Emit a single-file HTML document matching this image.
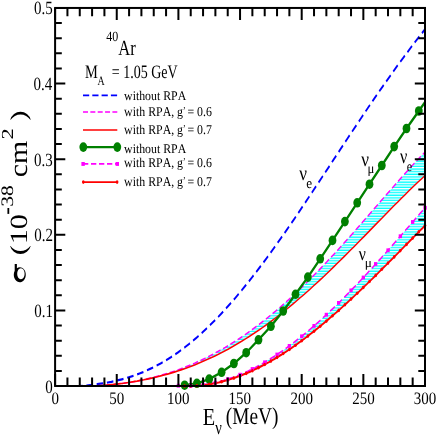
<!DOCTYPE html>
<html><head><meta charset="utf-8"><title>plot</title><style>html,body{margin:0;padding:0;background:#fff}body{width:436px;height:436px;overflow:hidden}svg{display:block;will-change:transform}</style></head><body>
<svg width="436" height="436" viewBox="0 0 436 436">
<defs><pattern id="h" width="8" height="2.620" y="256.150" patternUnits="userSpaceOnUse"><rect width="8" height="2.620" fill="#00ffff"/><rect width="8" height="1.30" fill="#fff"/></pattern>
<clipPath id="c"><rect x="55.1" y="8" width="369.9" height="378"/></clipPath></defs>
<g clip-path="url(#c)">
<path d="M89.6,386.0 L93.0,386.0 L96.4,385.9 L99.8,385.7 L103.2,385.5 L106.6,385.2 L109.9,384.9 L113.3,384.6 L116.7,384.2 L120.1,383.8 L123.5,383.3 L126.9,382.8 L130.3,382.3 L133.7,381.7 L137.1,381.1 L140.4,380.4 L143.8,379.7 L147.2,378.9 L150.6,378.1 L154.0,377.3 L157.4,376.4 L160.8,375.4 L164.2,374.4 L167.5,373.4 L170.9,372.3 L174.3,371.2 L177.7,370.0 L181.1,368.7 L184.5,367.4 L187.9,366.0 L191.3,364.6 L194.6,363.2 L198.0,361.6 L201.4,360.1 L204.8,358.4 L208.2,356.8 L211.6,355.0 L215.0,353.2 L218.4,351.3 L221.7,349.4 L225.1,347.5 L228.5,345.4 L231.9,343.3 L235.3,341.2 L238.7,339.0 L242.1,336.7 L245.5,334.4 L248.8,332.0 L252.2,329.5 L255.6,327.0 L259.0,324.5 L262.4,321.8 L265.8,319.2 L269.2,316.4 L272.6,313.6 L275.9,310.8 L279.3,307.9 L282.7,304.9 L286.1,301.9 L289.5,298.8 L292.9,295.7 L296.3,292.5 L299.7,289.3 L303.0,286.0 L306.4,282.7 L309.8,279.4 L313.2,275.9 L316.6,272.5 L320.0,269.0 L323.4,265.4 L326.8,261.9 L330.1,258.2 L333.5,254.6 L336.9,250.9 L340.3,247.2 L343.7,243.4 L347.1,239.6 L350.5,235.8 L353.9,232.0 L357.2,228.2 L360.6,224.3 L364.0,220.4 L367.4,216.5 L370.8,212.6 L374.2,208.7 L377.6,204.8 L381.0,200.9 L384.3,197.0 L387.7,193.1 L391.1,189.2 L394.5,185.4 L397.9,181.5 L401.3,177.7 L404.7,173.9 L408.1,170.2 L411.4,166.5 L414.8,162.8 L418.2,159.2 L421.6,155.6 L425.0,152.1 L425.0,175.6 L421.6,178.8 L418.2,181.9 L414.8,185.2 L411.4,188.4 L408.1,191.7 L404.7,195.1 L401.3,198.4 L397.9,201.8 L394.5,205.2 L391.1,208.7 L387.7,212.1 L384.3,215.6 L381.0,219.1 L377.6,222.5 L374.2,226.0 L370.8,229.5 L367.4,233.0 L364.0,236.5 L360.6,239.9 L357.2,243.4 L353.9,246.8 L350.5,250.2 L347.1,253.6 L343.7,257.0 L340.3,260.4 L336.9,263.7 L333.5,267.0 L330.1,270.3 L326.8,273.6 L323.4,276.8 L320.0,280.0 L316.6,283.1 L313.2,286.2 L309.8,289.3 L306.4,292.3 L303.0,295.3 L299.7,298.2 L296.3,301.2 L292.9,304.0 L289.5,306.8 L286.1,309.6 L282.7,312.3 L279.3,315.0 L275.9,317.6 L272.6,320.2 L269.2,322.7 L265.8,325.2 L262.4,327.6 L259.0,330.0 L255.6,332.3 L252.2,334.5 L248.8,336.7 L245.5,338.9 L242.1,341.0 L238.7,343.0 L235.3,345.0 L231.9,347.0 L228.5,348.9 L225.1,350.7 L221.7,352.5 L218.4,354.2 L215.0,355.9 L211.6,357.5 L208.2,359.1 L204.8,360.6 L201.4,362.1 L198.0,363.5 L194.6,364.9 L191.3,366.2 L187.9,367.5 L184.5,368.7 L181.1,369.9 L177.7,371.0 L174.3,372.1 L170.9,373.1 L167.5,374.1 L164.2,375.0 L160.8,375.9 L157.4,376.8 L154.0,377.6 L150.6,378.4 L147.2,379.1 L143.8,379.8 L140.4,380.4 L137.1,381.1 L133.7,381.6 L130.3,382.2 L126.9,382.7 L123.5,383.2 L120.1,383.6 L116.7,384.0 L113.3,384.4 L109.9,384.7 L106.6,385.1 L103.2,385.4 L99.8,385.6 L96.4,385.9 L93.0,386.0 L89.6,386.0 Z" fill="url(#h)"/>
<path d="M184.6,386.0 L187.0,386.0 L189.4,386.0 L191.9,385.9 L194.3,385.8 L196.7,385.6 L199.1,385.4 L201.6,385.1 L204.0,384.8 L206.4,384.4 L208.9,384.0 L211.3,383.5 L213.7,383.0 L216.1,382.5 L218.6,381.9 L221.0,381.2 L223.4,380.6 L225.9,379.8 L228.3,379.1 L230.7,378.2 L233.1,377.4 L235.6,376.5 L238.0,375.5 L240.4,374.5 L242.9,373.5 L245.3,372.4 L247.7,371.3 L250.1,370.1 L252.6,368.9 L255.0,367.7 L257.4,366.4 L259.9,365.0 L262.3,363.7 L264.7,362.3 L267.1,360.8 L269.6,359.3 L272.0,357.8 L274.4,356.3 L276.9,354.7 L279.3,353.0 L281.7,351.4 L284.1,349.7 L286.6,347.9 L289.0,346.1 L291.4,344.3 L293.9,342.5 L296.3,340.6 L298.7,338.7 L301.1,336.7 L303.6,334.8 L306.0,332.8 L308.4,330.7 L310.9,328.6 L313.3,326.5 L315.7,324.4 L318.1,322.3 L320.6,320.1 L323.0,317.8 L325.4,315.6 L327.9,313.3 L330.3,311.0 L332.7,308.7 L335.1,306.4 L337.6,304.0 L340.0,301.6 L342.4,299.2 L344.9,296.7 L347.3,294.3 L349.7,291.8 L352.1,289.3 L354.6,286.8 L357.0,284.2 L359.4,281.6 L361.9,279.1 L364.3,276.5 L366.7,273.8 L369.1,271.2 L371.6,268.6 L374.0,265.9 L376.4,263.2 L378.9,260.5 L381.3,257.8 L383.7,255.1 L386.1,252.4 L388.6,249.6 L391.0,246.9 L393.4,244.1 L395.9,241.3 L398.3,238.6 L400.7,235.8 L403.1,233.0 L405.6,230.2 L408.0,227.4 L410.4,224.6 L412.9,221.8 L415.3,219.0 L417.7,216.2 L420.1,213.4 L422.6,210.6 L425.0,207.8 L425.0,225.6 L422.6,228.1 L420.1,230.5 L417.7,233.0 L415.3,235.5 L412.9,237.9 L410.4,240.4 L408.0,242.9 L405.6,245.3 L403.1,247.8 L400.7,250.3 L398.3,252.7 L395.9,255.2 L393.4,257.7 L391.0,260.1 L388.6,262.5 L386.1,265.0 L383.7,267.4 L381.3,269.8 L378.9,272.3 L376.4,274.7 L374.0,277.1 L371.6,279.5 L369.1,281.8 L366.7,284.2 L364.3,286.5 L361.9,288.9 L359.4,291.2 L357.0,293.5 L354.6,295.8 L352.1,298.1 L349.7,300.3 L347.3,302.6 L344.9,304.8 L342.4,307.0 L340.0,309.2 L337.6,311.4 L335.1,313.5 L332.7,315.6 L330.3,317.7 L327.9,319.8 L325.4,321.9 L323.0,323.9 L320.6,325.9 L318.1,327.9 L315.7,329.9 L313.3,331.8 L310.9,333.7 L308.4,335.6 L306.0,337.5 L303.6,339.3 L301.1,341.1 L298.7,342.9 L296.3,344.7 L293.9,346.4 L291.4,348.1 L289.0,349.7 L286.6,351.3 L284.1,352.9 L281.7,354.5 L279.3,356.0 L276.9,357.5 L274.4,359.0 L272.0,360.4 L269.6,361.8 L267.1,363.2 L264.7,364.5 L262.3,365.8 L259.9,367.0 L257.4,368.3 L255.0,369.4 L252.6,370.6 L250.1,371.7 L247.7,372.8 L245.3,373.8 L242.9,374.8 L240.4,375.7 L238.0,376.6 L235.6,377.5 L233.1,378.3 L230.7,379.1 L228.3,379.9 L225.9,380.6 L223.4,381.3 L221.0,381.9 L218.6,382.5 L216.1,383.0 L213.7,383.5 L211.3,384.0 L208.9,384.4 L206.4,384.7 L204.0,385.1 L201.6,385.4 L199.1,385.6 L196.7,385.8 L194.3,385.9 L191.9,386.0 L189.4,386.0 L187.0,386.0 L184.6,386.0 Z" fill="url(#h)"/>
<g transform="scale(0.770,1)" fill="none">
<path d="M98.8,386.0 L103.4,386.0 L107.9,385.9 L112.5,385.5 L117.1,385.1 L121.7,384.7 L126.2,384.2 L130.8,383.7 L135.4,383.1 L140.0,382.5 L144.6,381.8 L149.1,381.0 L153.7,380.2 L158.3,379.3 L162.9,378.3 L167.4,377.2 L172.0,376.1 L176.6,374.8 L181.2,373.5 L185.8,372.1 L190.3,370.5 L194.9,368.9 L199.5,367.2 L204.1,365.3 L208.6,363.4 L213.2,361.4 L217.8,359.2 L222.4,357.0 L226.9,354.6 L231.5,352.2 L236.1,349.6 L240.7,346.9 L245.3,344.1 L249.8,341.2 L254.4,338.3 L259.0,335.2 L263.6,331.9 L268.1,328.6 L272.7,325.2 L277.3,321.7 L281.9,318.1 L286.5,314.4 L291.0,310.6 L295.6,306.7 L300.2,302.7 L304.8,298.7 L309.3,294.5 L313.9,290.3 L318.5,285.9 L323.1,281.5 L327.7,277.0 L332.2,272.5 L336.8,267.9 L341.4,263.2 L346.0,258.4 L350.5,253.6 L355.1,248.7 L359.7,243.8 L364.3,238.8 L368.9,233.8 L373.4,228.7 L378.0,223.6 L382.6,218.4 L387.2,213.2 L391.7,208.0 L396.3,202.7 L400.9,197.4 L405.5,192.1 L410.0,186.8 L414.6,181.5 L419.2,176.1 L423.8,170.7 L428.4,165.4 L432.9,160.0 L437.5,154.7 L442.1,149.3 L446.7,143.9 L451.2,138.6 L455.8,133.3 L460.4,128.0 L465.0,122.7 L469.6,117.4 L474.1,112.2 L478.7,106.9 L483.3,101.8 L487.9,96.6 L492.4,91.5 L497.0,86.4 L501.6,81.4 L506.2,76.4 L510.8,71.5 L515.3,66.6 L519.9,61.7 L524.5,56.9 L529.1,52.2 L533.6,47.5 L538.2,42.9 L542.8,38.3 L547.4,33.8 L551.9,29.3" stroke="#0000ff" stroke-width="2.2" stroke-dasharray="8.5 4.9"/>
<path d="M116.4,386.0 L120.8,386.0 L125.2,385.9 L129.6,385.7 L134.0,385.5 L138.4,385.2 L142.8,384.9 L147.2,384.6 L151.6,384.2 L156.0,383.8 L160.4,383.3 L164.8,382.8 L169.2,382.3 L173.6,381.7 L178.0,381.1 L182.4,380.4 L186.8,379.7 L191.2,378.9 L195.6,378.1 L200.0,377.3 L204.4,376.4 L208.8,375.4 L213.2,374.4 L217.6,373.4 L222.0,372.3 L226.4,371.2 L230.8,370.0 L235.2,368.7 L239.6,367.4 L244.0,366.0 L248.4,364.6 L252.8,363.2 L257.2,361.6 L261.6,360.1 L266.0,358.4 L270.4,356.8 L274.8,355.0 L279.2,353.2 L283.6,351.3 L288.0,349.4 L292.4,347.5 L296.8,345.4 L301.2,343.3 L305.6,341.2 L310.0,339.0 L314.4,336.7 L318.8,334.4 L323.2,332.0 L327.6,329.5 L332.0,327.0 L336.4,324.5 L340.8,321.8 L345.2,319.2 L349.6,316.4 L354.0,313.6 L358.4,310.8 L362.8,307.9 L367.2,304.9 L371.6,301.9 L376.0,298.8 L380.4,295.7 L384.8,292.5 L389.2,289.3 L393.6,286.0 L398.0,282.7 L402.4,279.4 L406.8,275.9 L411.2,272.5 L415.6,269.0 L420.0,265.4 L424.4,261.9 L428.8,258.2 L433.2,254.6 L437.6,250.9 L442.0,247.2 L446.4,243.4 L450.8,239.6 L455.2,235.8 L459.6,232.0 L464.0,228.2 L468.4,224.3 L472.8,220.4 L477.2,216.5 L481.6,212.6 L486.0,208.7 L490.4,204.8 L494.8,200.9 L499.2,197.0 L503.6,193.1 L508.0,189.2 L512.4,185.4 L516.8,181.5 L521.2,177.7 L525.6,173.9 L530.0,170.2 L534.3,166.5 L538.7,162.8 L543.1,159.2 L547.5,155.6 L551.9,152.1" stroke="#ff00ff" stroke-width="1.6" stroke-dasharray="7 3.5"/>
<path d="M116.4,386.0 L120.8,386.0 L125.2,385.9 L129.6,385.6 L134.0,385.4 L138.4,385.1 L142.8,384.7 L147.2,384.4 L151.6,384.0 L156.0,383.6 L160.4,383.2 L164.8,382.7 L169.2,382.2 L173.6,381.6 L178.0,381.1 L182.4,380.4 L186.8,379.8 L191.2,379.1 L195.6,378.4 L200.0,377.6 L204.4,376.8 L208.8,375.9 L213.2,375.0 L217.6,374.1 L222.0,373.1 L226.4,372.1 L230.8,371.0 L235.2,369.9 L239.6,368.7 L244.0,367.5 L248.4,366.2 L252.8,364.9 L257.2,363.5 L261.6,362.1 L266.0,360.6 L270.4,359.1 L274.8,357.5 L279.2,355.9 L283.6,354.2 L288.0,352.5 L292.4,350.7 L296.8,348.9 L301.2,347.0 L305.6,345.0 L310.0,343.0 L314.4,341.0 L318.8,338.9 L323.2,336.7 L327.6,334.5 L332.0,332.3 L336.4,330.0 L340.8,327.6 L345.2,325.2 L349.6,322.7 L354.0,320.2 L358.4,317.6 L362.8,315.0 L367.2,312.3 L371.6,309.6 L376.0,306.8 L380.4,304.0 L384.8,301.2 L389.2,298.2 L393.6,295.3 L398.0,292.3 L402.4,289.3 L406.8,286.2 L411.2,283.1 L415.6,280.0 L420.0,276.8 L424.4,273.6 L428.8,270.3 L433.2,267.0 L437.6,263.7 L442.0,260.4 L446.4,257.0 L450.8,253.6 L455.2,250.2 L459.6,246.8 L464.0,243.4 L468.4,239.9 L472.8,236.5 L477.2,233.0 L481.6,229.5 L486.0,226.0 L490.4,222.5 L494.8,219.1 L499.2,215.6 L503.6,212.1 L508.0,208.7 L512.4,205.2 L516.8,201.8 L521.2,198.4 L525.6,195.1 L530.0,191.7 L534.3,188.4 L538.7,185.2 L543.1,181.9 L547.5,178.8 L551.9,175.6" stroke="#ff0000" stroke-width="1.6"/>
<path d="M239.7,386.0 L242.8,386.0 L246.0,386.0 L249.2,385.9 L252.3,385.8 L255.5,385.6 L258.6,385.4 L261.8,385.1 L264.9,384.8 L268.1,384.4 L271.2,384.0 L274.4,383.5 L277.5,383.0 L280.7,382.5 L283.9,381.9 L287.0,381.2 L290.2,380.6 L293.3,379.8 L296.5,379.1 L299.6,378.2 L302.8,377.4 L305.9,376.5 L309.1,375.5 L312.2,374.5 L315.4,373.5 L318.5,372.4 L321.7,371.3 L324.9,370.1 L328.0,368.9 L331.2,367.7 L334.3,366.4 L337.5,365.0 L340.6,363.7 L343.8,362.3 L346.9,360.8 L350.1,359.3 L353.2,357.8 L356.4,356.3 L359.5,354.7 L362.7,353.0 L365.9,351.4 L369.0,349.7 L372.2,347.9 L375.3,346.1 L378.5,344.3 L381.6,342.5 L384.8,340.6 L387.9,338.7 L391.1,336.7 L394.2,334.8 L397.4,332.8 L400.6,330.7 L403.7,328.6 L406.9,326.5 L410.0,324.4 L413.2,322.3 L416.3,320.1 L419.5,317.8 L422.6,315.6 L425.8,313.3 L428.9,311.0 L432.1,308.7 L435.2,306.4 L438.4,304.0 L441.6,301.6 L444.7,299.2 L447.9,296.7 L451.0,294.3 L454.2,291.8 L457.3,289.3 L460.5,286.8 L463.6,284.2 L466.8,281.6 L469.9,279.1 L473.1,276.5 L476.3,273.8 L479.4,271.2 L482.6,268.6 L485.7,265.9 L488.9,263.2 L492.0,260.5 L495.2,257.8 L498.3,255.1 L501.5,252.4 L504.6,249.6 L507.8,246.9 L510.9,244.1 L514.1,241.3 L517.3,238.6 L520.4,235.8 L523.6,233.0 L526.7,230.2 L529.9,227.4 L533.0,224.6 L536.2,221.8 L539.3,219.0 L542.5,216.2 L545.6,213.4 L548.8,210.6 L551.9,207.8" stroke="#ff00ff" stroke-width="1.75" stroke-dasharray="7.6 3.9"/>
<path d="M239.7,386.0 L242.8,386.0 L246.0,386.0 L249.2,386.0 L252.3,385.9 L255.5,385.8 L258.6,385.6 L261.8,385.4 L264.9,385.1 L268.1,384.7 L271.2,384.4 L274.4,384.0 L277.5,383.5 L280.7,383.0 L283.9,382.5 L287.0,381.9 L290.2,381.3 L293.3,380.6 L296.5,379.9 L299.6,379.1 L302.8,378.3 L305.9,377.5 L309.1,376.6 L312.2,375.7 L315.4,374.8 L318.5,373.8 L321.7,372.8 L324.9,371.7 L328.0,370.6 L331.2,369.4 L334.3,368.3 L337.5,367.0 L340.6,365.8 L343.8,364.5 L346.9,363.2 L350.1,361.8 L353.2,360.4 L356.4,359.0 L359.5,357.5 L362.7,356.0 L365.9,354.5 L369.0,352.9 L372.2,351.3 L375.3,349.7 L378.5,348.1 L381.6,346.4 L384.8,344.7 L387.9,342.9 L391.1,341.1 L394.2,339.3 L397.4,337.5 L400.6,335.6 L403.7,333.7 L406.9,331.8 L410.0,329.9 L413.2,327.9 L416.3,325.9 L419.5,323.9 L422.6,321.9 L425.8,319.8 L428.9,317.7 L432.1,315.6 L435.2,313.5 L438.4,311.4 L441.6,309.2 L444.7,307.0 L447.9,304.8 L451.0,302.6 L454.2,300.3 L457.3,298.1 L460.5,295.8 L463.6,293.5 L466.8,291.2 L469.9,288.9 L473.1,286.5 L476.3,284.2 L479.4,281.8 L482.6,279.5 L485.7,277.1 L488.9,274.7 L492.0,272.3 L495.2,269.8 L498.3,267.4 L501.5,265.0 L504.6,262.5 L507.8,260.1 L510.9,257.7 L514.1,255.2 L517.3,252.7 L520.4,250.3 L523.6,247.8 L526.7,245.3 L529.9,242.9 L533.0,240.4 L536.2,237.9 L539.3,235.5 L542.5,233.0 L545.6,230.5 L548.8,228.1 L551.9,225.6" stroke="#ff0000" stroke-width="2.0"/>
</g></g>
<path d="M184.6,385.2 L196.9,383.3 L209.2,379.1 L221.6,372.3 L233.9,363.5 L246.2,352.7 L258.5,339.8 L270.9,326.3 L283.2,311.0 L295.5,294.3 L307.9,277.1 L320.2,258.8 L332.5,240.4 L344.9,221.6 L357.2,202.8 L369.5,184.2 L381.8,165.5 L394.2,146.6 L406.5,128.5 L418.8,111.0 L425.0,102.1" fill="none" stroke="#008000" stroke-width="2.3"/>
<ellipse cx="184.6" cy="385.2" rx="3.9" ry="4.8" fill="#008000"/>
<ellipse cx="196.9" cy="383.3" rx="3.9" ry="4.8" fill="#008000"/>
<ellipse cx="209.2" cy="379.1" rx="3.9" ry="4.8" fill="#008000"/>
<ellipse cx="221.6" cy="372.3" rx="3.9" ry="4.8" fill="#008000"/>
<ellipse cx="233.9" cy="363.5" rx="3.9" ry="4.8" fill="#008000"/>
<ellipse cx="246.2" cy="352.7" rx="3.9" ry="4.8" fill="#008000"/>
<ellipse cx="258.5" cy="339.8" rx="3.9" ry="4.8" fill="#008000"/>
<ellipse cx="270.9" cy="326.3" rx="3.9" ry="4.8" fill="#008000"/>
<ellipse cx="283.2" cy="311.0" rx="3.9" ry="4.8" fill="#008000"/>
<ellipse cx="295.5" cy="294.3" rx="3.9" ry="4.8" fill="#008000"/>
<ellipse cx="307.9" cy="277.1" rx="3.9" ry="4.8" fill="#008000"/>
<ellipse cx="320.2" cy="258.8" rx="3.9" ry="4.8" fill="#008000"/>
<ellipse cx="332.5" cy="240.4" rx="3.9" ry="4.8" fill="#008000"/>
<ellipse cx="344.9" cy="221.6" rx="3.9" ry="4.8" fill="#008000"/>
<ellipse cx="357.2" cy="202.8" rx="3.9" ry="4.8" fill="#008000"/>
<ellipse cx="369.5" cy="184.2" rx="3.9" ry="4.8" fill="#008000"/>
<ellipse cx="381.8" cy="165.5" rx="3.9" ry="4.8" fill="#008000"/>
<ellipse cx="394.2" cy="146.6" rx="3.9" ry="4.8" fill="#008000"/>
<ellipse cx="406.5" cy="128.5" rx="3.9" ry="4.8" fill="#008000"/>
<ellipse cx="418.8" cy="111.0" rx="3.9" ry="4.8" fill="#008000"/>
<rect x="176.7" y="383.8" width="3.3" height="3.8" fill="#ff00ff"/>
<rect x="189.1" y="384.0" width="3.3" height="3.8" fill="#ff00ff"/>
<rect x="201.4" y="383.0" width="3.3" height="3.8" fill="#ff00ff"/>
<rect x="213.7" y="380.8" width="3.3" height="3.8" fill="#ff00ff"/>
<rect x="226.1" y="377.3" width="3.3" height="3.8" fill="#ff00ff"/>
<rect x="238.4" y="372.8" width="3.3" height="3.8" fill="#ff00ff"/>
<rect x="250.7" y="367.1" width="3.3" height="3.8" fill="#ff00ff"/>
<rect x="263.1" y="360.4" width="3.3" height="3.8" fill="#ff00ff"/>
<rect x="275.4" y="352.6" width="3.3" height="3.8" fill="#ff00ff"/>
<rect x="287.7" y="344.0" width="3.3" height="3.8" fill="#ff00ff"/>
<rect x="300.1" y="334.4" width="3.3" height="3.8" fill="#ff00ff"/>
<rect x="312.4" y="324.0" width="3.3" height="3.8" fill="#ff00ff"/>
<rect x="324.7" y="312.8" width="3.3" height="3.8" fill="#ff00ff"/>
<rect x="337.0" y="301.0" width="3.3" height="3.8" fill="#ff00ff"/>
<rect x="349.4" y="288.5" width="3.3" height="3.8" fill="#ff00ff"/>
<rect x="361.7" y="275.6" width="3.3" height="3.8" fill="#ff00ff"/>
<rect x="374.0" y="262.1" width="3.3" height="3.8" fill="#ff00ff"/>
<rect x="386.4" y="248.4" width="3.3" height="3.8" fill="#ff00ff"/>
<rect x="398.7" y="234.3" width="3.3" height="3.8" fill="#ff00ff"/>
<rect x="411.0" y="220.1" width="3.3" height="3.8" fill="#ff00ff"/>
<rect x="423.4" y="205.9" width="3.3" height="3.8" fill="#ff00ff"/>
<ellipse cx="184.6" cy="386.0" rx="1.35" ry="1.8" fill="#ff0000"/>
<ellipse cx="190.7" cy="386.0" rx="1.35" ry="1.8" fill="#ff0000"/>
<ellipse cx="196.9" cy="385.8" rx="1.35" ry="1.8" fill="#ff0000"/>
<ellipse cx="203.1" cy="385.2" rx="1.35" ry="1.8" fill="#ff0000"/>
<ellipse cx="209.2" cy="384.3" rx="1.35" ry="1.8" fill="#ff0000"/>
<ellipse cx="215.4" cy="383.2" rx="1.35" ry="1.8" fill="#ff0000"/>
<ellipse cx="221.6" cy="381.8" rx="1.35" ry="1.8" fill="#ff0000"/>
<ellipse cx="227.7" cy="380.1" rx="1.35" ry="1.8" fill="#ff0000"/>
<ellipse cx="233.9" cy="378.1" rx="1.35" ry="1.8" fill="#ff0000"/>
<ellipse cx="240.0" cy="375.9" rx="1.35" ry="1.8" fill="#ff0000"/>
<ellipse cx="246.2" cy="373.4" rx="1.35" ry="1.8" fill="#ff0000"/>
<ellipse cx="252.4" cy="370.7" rx="1.35" ry="1.8" fill="#ff0000"/>
<ellipse cx="258.5" cy="367.7" rx="1.35" ry="1.8" fill="#ff0000"/>
<ellipse cx="264.7" cy="364.5" rx="1.35" ry="1.8" fill="#ff0000"/>
<ellipse cx="270.9" cy="361.1" rx="1.35" ry="1.8" fill="#ff0000"/>
<ellipse cx="277.0" cy="357.4" rx="1.35" ry="1.8" fill="#ff0000"/>
<ellipse cx="283.2" cy="353.5" rx="1.35" ry="1.8" fill="#ff0000"/>
<ellipse cx="289.4" cy="349.5" rx="1.35" ry="1.8" fill="#ff0000"/>
<ellipse cx="295.5" cy="345.2" rx="1.35" ry="1.8" fill="#ff0000"/>
<ellipse cx="301.7" cy="340.7" rx="1.35" ry="1.8" fill="#ff0000"/>
<ellipse cx="307.9" cy="336.1" rx="1.35" ry="1.8" fill="#ff0000"/>
<ellipse cx="314.0" cy="331.2" rx="1.35" ry="1.8" fill="#ff0000"/>
<ellipse cx="320.2" cy="326.2" rx="1.35" ry="1.8" fill="#ff0000"/>
<ellipse cx="326.4" cy="321.1" rx="1.35" ry="1.8" fill="#ff0000"/>
<ellipse cx="332.5" cy="315.8" rx="1.35" ry="1.8" fill="#ff0000"/>
<ellipse cx="338.7" cy="310.4" rx="1.35" ry="1.8" fill="#ff0000"/>
<ellipse cx="344.9" cy="304.8" rx="1.35" ry="1.8" fill="#ff0000"/>
<ellipse cx="351.0" cy="299.1" rx="1.35" ry="1.8" fill="#ff0000"/>
<ellipse cx="357.2" cy="293.3" rx="1.35" ry="1.8" fill="#ff0000"/>
<ellipse cx="363.3" cy="287.4" rx="1.35" ry="1.8" fill="#ff0000"/>
<ellipse cx="369.5" cy="281.5" rx="1.35" ry="1.8" fill="#ff0000"/>
<ellipse cx="375.7" cy="275.4" rx="1.35" ry="1.8" fill="#ff0000"/>
<ellipse cx="381.8" cy="269.3" rx="1.35" ry="1.8" fill="#ff0000"/>
<ellipse cx="388.0" cy="263.1" rx="1.35" ry="1.8" fill="#ff0000"/>
<ellipse cx="394.2" cy="256.9" rx="1.35" ry="1.8" fill="#ff0000"/>
<ellipse cx="400.3" cy="250.6" rx="1.35" ry="1.8" fill="#ff0000"/>
<ellipse cx="406.5" cy="244.4" rx="1.35" ry="1.8" fill="#ff0000"/>
<ellipse cx="412.7" cy="238.1" rx="1.35" ry="1.8" fill="#ff0000"/>
<ellipse cx="418.8" cy="231.8" rx="1.35" ry="1.8" fill="#ff0000"/>
<ellipse cx="425.0" cy="225.6" rx="1.35" ry="1.8" fill="#ff0000"/>
<rect x="55.1" y="7.95" width="369.9" height="378.05" fill="none" stroke="#000" stroke-width="2"/>
<path d="M55.10,386 v-12.0 M55.10,7.95 v12.0 M67.43,386 v-8.4 M67.43,7.95 v8.4 M79.76,386 v-8.4 M79.76,7.95 v8.4 M92.09,386 v-8.4 M92.09,7.95 v8.4 M104.42,386 v-8.4 M104.42,7.95 v8.4 M116.75,386 v-12.0 M116.75,7.95 v12.0 M129.08,386 v-8.4 M129.08,7.95 v8.4 M141.41,386 v-8.4 M141.41,7.95 v8.4 M153.74,386 v-8.4 M153.74,7.95 v8.4 M166.07,386 v-8.4 M166.07,7.95 v8.4 M178.40,386 v-12.0 M178.40,7.95 v12.0 M190.73,386 v-8.4 M190.73,7.95 v8.4 M203.06,386 v-8.4 M203.06,7.95 v8.4 M215.39,386 v-8.4 M215.39,7.95 v8.4 M227.72,386 v-8.4 M227.72,7.95 v8.4 M240.05,386 v-12.0 M240.05,7.95 v12.0 M252.38,386 v-8.4 M252.38,7.95 v8.4 M264.71,386 v-8.4 M264.71,7.95 v8.4 M277.04,386 v-8.4 M277.04,7.95 v8.4 M289.37,386 v-8.4 M289.37,7.95 v8.4 M301.70,386 v-12.0 M301.70,7.95 v12.0 M314.03,386 v-8.4 M314.03,7.95 v8.4 M326.36,386 v-8.4 M326.36,7.95 v8.4 M338.69,386 v-8.4 M338.69,7.95 v8.4 M351.02,386 v-8.4 M351.02,7.95 v8.4 M363.35,386 v-12.0 M363.35,7.95 v12.0 M375.68,386 v-8.4 M375.68,7.95 v8.4 M388.01,386 v-8.4 M388.01,7.95 v8.4 M400.34,386 v-8.4 M400.34,7.95 v8.4 M412.67,386 v-8.4 M412.67,7.95 v8.4 M425.00,386 v-12.0 M425.00,7.95 v12.0 M55.1,386.00 h10.2 M425,386.00 h-10.2 M55.1,370.88 h6.7 M425,370.88 h-6.7 M55.1,355.76 h6.7 M425,355.76 h-6.7 M55.1,340.64 h6.7 M425,340.64 h-6.7 M55.1,325.52 h6.7 M425,325.52 h-6.7 M55.1,310.40 h10.2 M425,310.40 h-10.2 M55.1,295.28 h6.7 M425,295.28 h-6.7 M55.1,280.16 h6.7 M425,280.16 h-6.7 M55.1,265.04 h6.7 M425,265.04 h-6.7 M55.1,249.92 h6.7 M425,249.92 h-6.7 M55.1,234.80 h10.2 M425,234.80 h-10.2 M55.1,219.68 h6.7 M425,219.68 h-6.7 M55.1,204.56 h6.7 M425,204.56 h-6.7 M55.1,189.44 h6.7 M425,189.44 h-6.7 M55.1,174.32 h6.7 M425,174.32 h-6.7 M55.1,159.20 h10.2 M425,159.20 h-10.2 M55.1,144.08 h6.7 M425,144.08 h-6.7 M55.1,128.96 h6.7 M425,128.96 h-6.7 M55.1,113.84 h6.7 M425,113.84 h-6.7 M55.1,98.72 h6.7 M425,98.72 h-6.7 M55.1,83.60 h10.2 M425,83.60 h-10.2 M55.1,68.48 h6.7 M425,68.48 h-6.7 M55.1,53.36 h6.7 M425,53.36 h-6.7 M55.1,38.24 h6.7 M425,38.24 h-6.7 M55.1,23.12 h6.7 M425,23.12 h-6.7 M55.1,8.00 h10.2 M425,8.00 h-10.2" stroke="#000" stroke-width="2" fill="none"/>
<g font-family="Liberation Serif, serif" fill="#000" style="font-kerning:none;text-rendering:geometricPrecision">
<text transform="translate(45.17,392.57) scale(0.7970,1)" font-size="18.82">0</text>
<text transform="translate(34.25,316.89) scale(0.8022,1)" font-size="18.70">0.1</text>
<text transform="translate(34.18,241.29) scale(0.8022,1)" font-size="18.70">0.2</text>
<text transform="translate(33.94,165.69) scale(0.8022,1)" font-size="18.70">0.3</text>
<text transform="translate(33.58,90.09) scale(0.8022,1)" font-size="18.70">0.4</text>
<text transform="translate(33.94,14.49) scale(0.8022,1)" font-size="18.70">0.5</text>
<text transform="translate(51.45,403.63) scale(0.8578,1)" font-size="17.49">0</text>
<text transform="translate(109.20,403.63) scale(0.8578,1)" font-size="17.49">50</text>
<text transform="translate(166.88,403.63) scale(0.8578,1)" font-size="17.49">100</text>
<text transform="translate(228.53,403.63) scale(0.8578,1)" font-size="17.49">150</text>
<text transform="translate(290.51,403.63) scale(0.8578,1)" font-size="17.49">200</text>
<text transform="translate(352.16,403.63) scale(0.8578,1)" font-size="17.49">250</text>
<text transform="translate(413.78,403.63) scale(0.8578,1)" font-size="17.49">300</text>
<text transform="translate(106.16,41.36) scale(0.8555,1)" font-size="14.08">40</text>
<text transform="translate(118.24,54.70) scale(0.7660,1)" font-size="21.66">Ar</text>
<text transform="translate(84.88,77.75) scale(0.7534,1)" font-size="19.17">M</text>
<text transform="translate(97.50,85.20) scale(0.7802,1)" font-size="12.72">A</text>
<text transform="translate(111.80,77.61) scale(0.7385,1)" font-size="18.97">= 1.05 GeV</text>
<text transform="translate(124.09,100.47) scale(0.8947,1)" font-size="13.22">without RPA</text>
<text transform="translate(124.09,152.87) scale(0.8947,1)" font-size="13.22">without RPA</text>
<text transform="translate(124.10,115.65) scale(0.8778,1)" font-size="13.50" text-anchor="start">with RPA, g<tspan dy='-2' dx='-0.3' font-size='10.5'>’</tspan><tspan dy='2' dx='-1.6'> = 0.6</tspan></text>
<text transform="translate(124.10,134.00) scale(0.8778,1)" font-size="13.50" text-anchor="start">with RPA, g<tspan dy='-2' dx='-0.3' font-size='10.5'>’</tspan><tspan dy='2' dx='-1.6'> = 0.7</tspan></text>
<text transform="translate(124.10,167.10) scale(0.8778,1)" font-size="13.50" text-anchor="start">with RPA, g<tspan dy='-2' dx='-0.3' font-size='10.5'>’</tspan><tspan dy='2' dx='-1.6'> = 0.6</tspan></text>
<text transform="translate(124.10,185.50) scale(0.8778,1)" font-size="13.50" text-anchor="start">with RPA, g<tspan dy='-2' dx='-0.3' font-size='10.5'>’</tspan><tspan dy='2' dx='-1.6'> = 0.7</tspan></text>
<text transform="translate(299.16,180.20) scale(0.8362,1)" font-size="20.48">ν</text>
<text transform="translate(306.18,187.86) scale(0.8968,1)" font-size="14.76">e</text>
<text transform="translate(361.16,166.00) scale(0.8362,1)" font-size="20.48">ν</text>
<text transform="translate(367.46,173.25) scale(0.8971,1)" font-size="14.27">μ</text>
<text transform="translate(400.06,162.80) scale(0.7822,1)" font-size="20.69">ν</text>
<text transform="translate(406.83,170.56) scale(0.8599,1)" font-size="14.14">e</text>
<text transform="translate(358.66,259.51) scale(0.8278,1)" font-size="18.99">ν</text>
<text transform="translate(364.72,267.30) scale(1.0156,1)" font-size="13.08">μ</text>
<text transform="translate(202.72,425.40) scale(0.8253,1)" font-size="24.59">E</text>
<text transform="translate(215.16,433.61) scale(0.7492,1)" font-size="19.41">ν</text>
<text transform="translate(225.85,424.18) scale(0.8040,1)" font-size="24.04">(MeV)</text>
<text transform="translate(27.06,244.24) rotate(-90) scale(1.2159,1)" font-size="24.75">10</text>
<text transform="translate(14.28,214.74) rotate(-90) scale(0.9427,1)" font-size="24.09">-</text>
<text transform="translate(12.83,206.63) rotate(-90) scale(1.2262,1)" font-size="17.49">38</text>
<text transform="translate(26.95,177.23) rotate(-90) scale(1.1431,1)" font-size="25.99">cm</text>
<text transform="translate(12.60,139.39) rotate(-90) scale(1.3392,1)" font-size="16.76">2</text>
<path d="M10.1,246.0 A10.66,10.66 0 0 0 30.7,246.0 L30.3,246.0 A12.16,12.16 0 0 1 10.5,246.0 Z" fill="#000"/>
<path d="M10.3,119.8 A10.50,10.50 0 0 1 30.7,119.8 L30.3,119.8 A11.71,11.71 0 0 0 10.7,119.8 Z" fill="#000"/>
<path fill-rule="evenodd" fill="#000" d="M14.7,264 h2.2 v4.2 a6.0,7.5 0 1 1 -2.2,2.6 Z M20.9,268.3 a3.7,5.5 0 1 0 0.01,0 Z"/>
</g>
<path d="M83,95.4 H117.3" stroke="#0000ff" stroke-width="1.8" stroke-dasharray="6.2 3.1"/>
<path d="M83,112 H117.3" stroke="#ff00ff" stroke-width="1.5" stroke-dasharray="5 2.35"/>
<path d="M83,129.9 H117.3" stroke="#ff0000" stroke-width="1.5"/>
<path d="M83.3,147.1 H117.3" stroke="#008000" stroke-width="2.3"/>
<ellipse cx="83.3" cy="147.1" rx="3.9" ry="4.8" fill="#008000"/><ellipse cx="117.3" cy="147.1" rx="3.9" ry="4.8" fill="#008000"/>
<path d="M83,163.9 H117.3" stroke="#ff00ff" stroke-width="1.9" stroke-dasharray="5.3 2.7"/>
<rect x="81.4" y="162" width="3.4" height="3.9" fill="#ff00ff"/><rect x="115.6" y="162" width="3.4" height="3.9" fill="#ff00ff"/>
<path d="M83,182.1 H117.3" stroke="#ff0000" stroke-width="1.9"/>
<ellipse cx="83.3" cy="182.1" rx="1.35" ry="1.8" fill="#ff0000"/><ellipse cx="117.1" cy="182.1" rx="1.35" ry="1.8" fill="#ff0000"/>
</svg>
</body></html>
